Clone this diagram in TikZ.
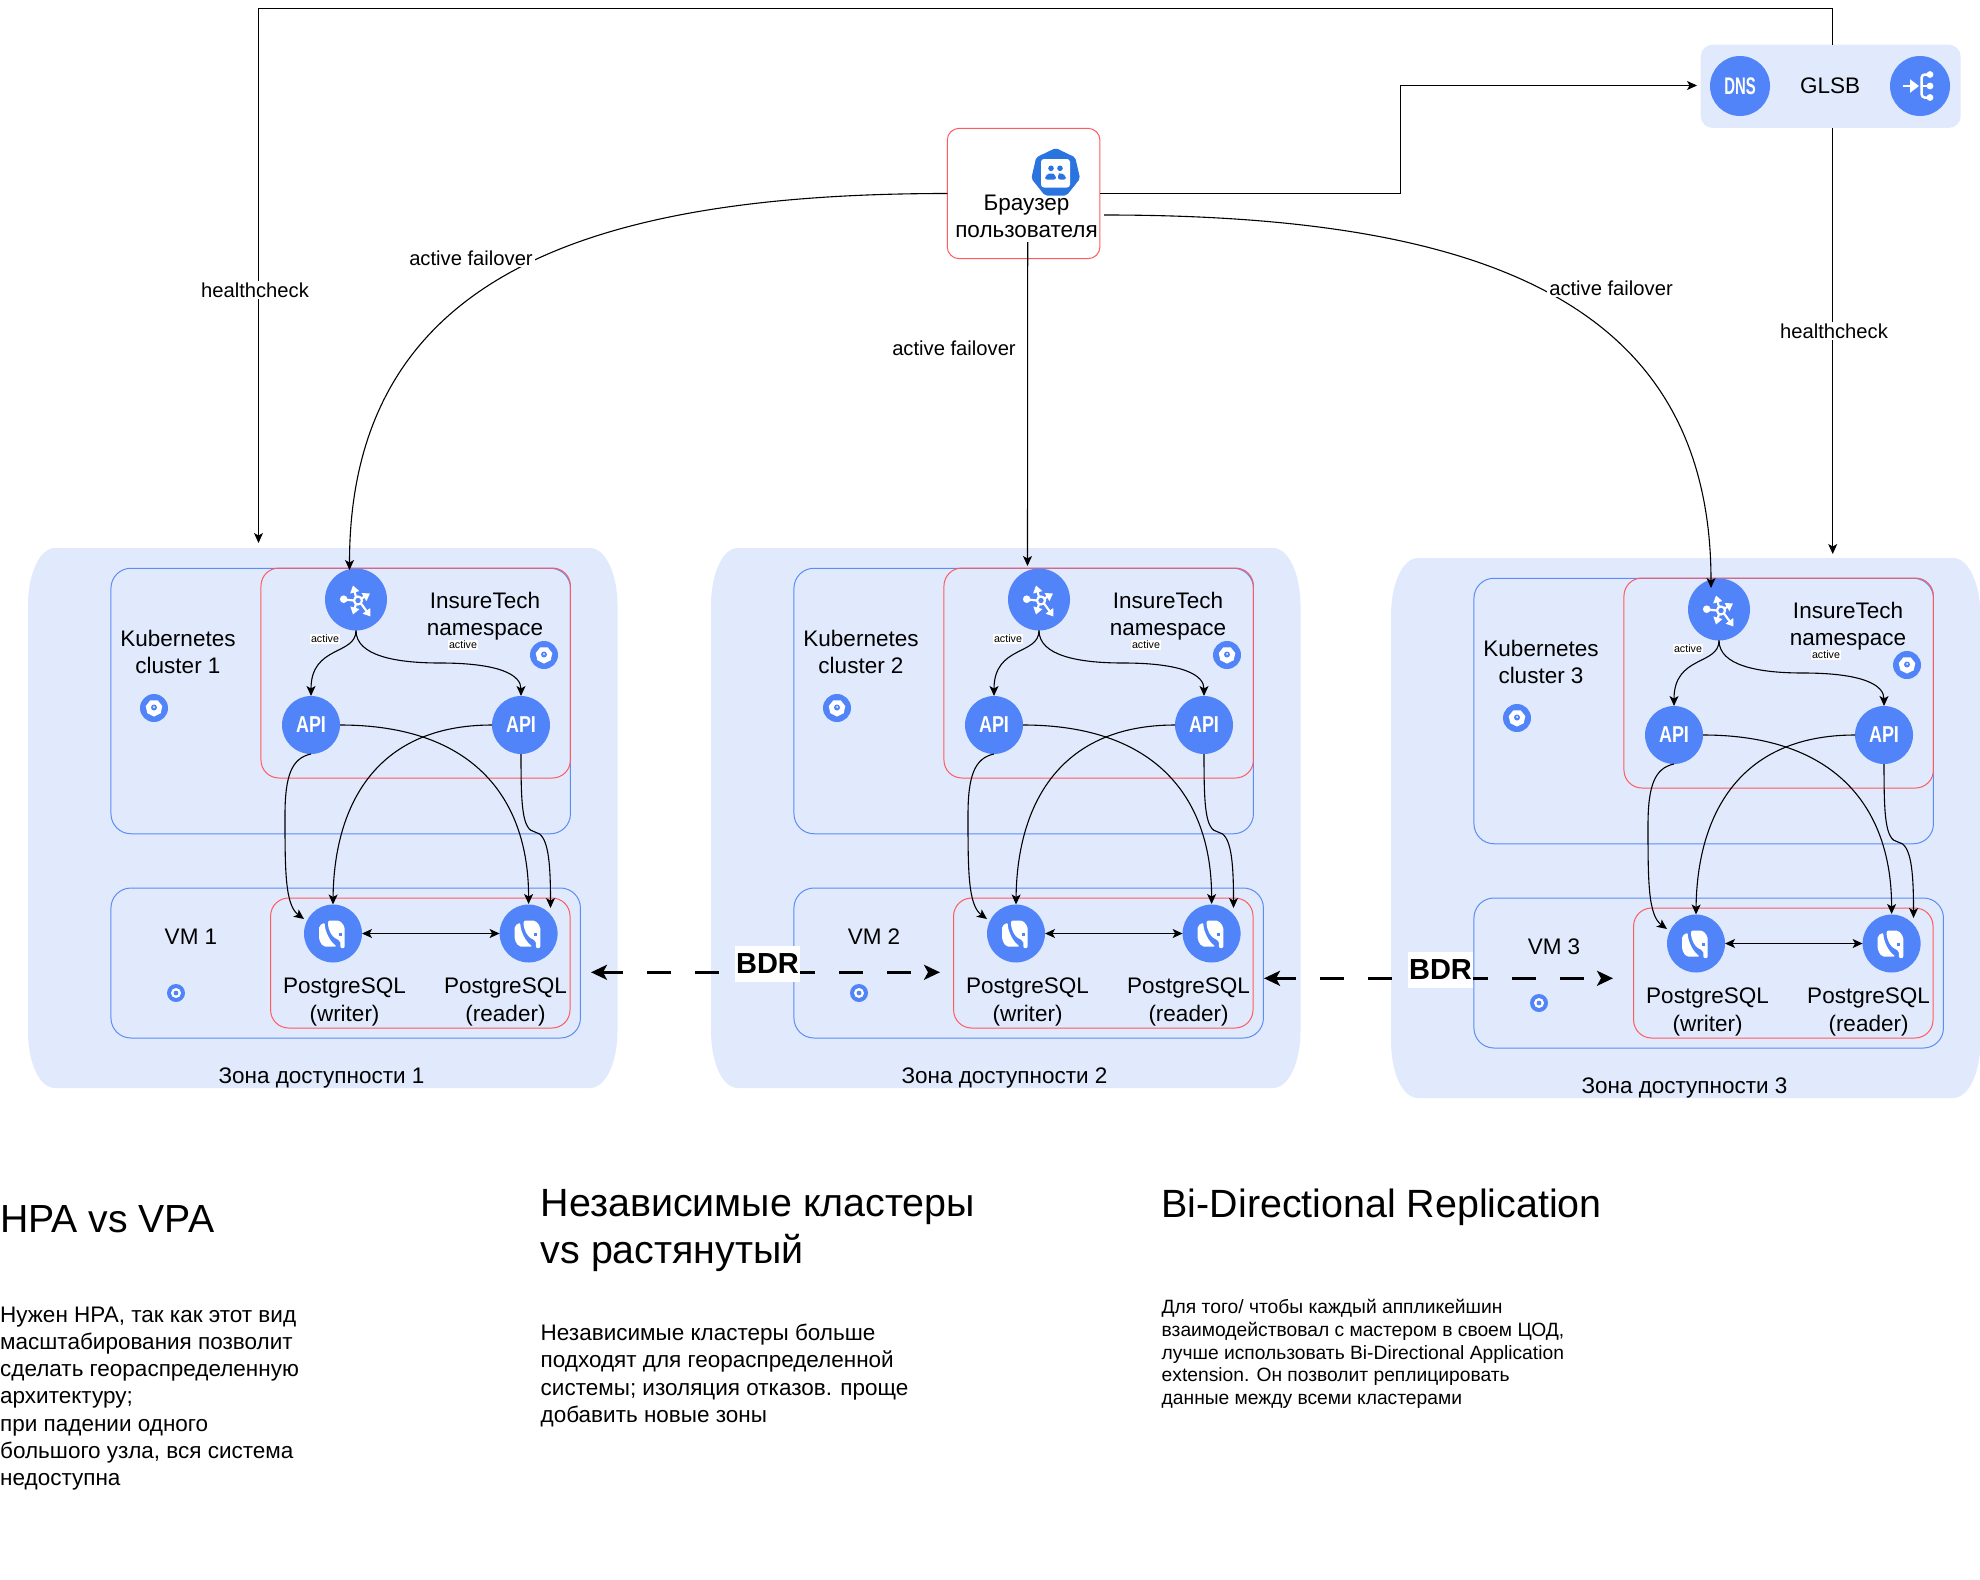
\documentclass[tikz,border=0pt]{standalone}
\usepackage{fontspec}
\usepackage{graphicx}
\setmainfont{Liberation Sans}
\usetikzlibrary{arrows.meta,shapes.geometric}

\definecolor{zonebg}{HTML}{E1EAFC}
\definecolor{nodeblue}{HTML}{5184F9}
\definecolor{boxblue}{HTML}{5C8CF5}
\definecolor{boxred}{HTML}{FF5A5F}
\definecolor{usrblue}{HTML}{2A74E0}

\newcommand{\apitxt}{\scalebox{.78}[1]{\fontsize{23}{27}\selectfont\bfseries API}}
\newcommand{\dnstxt}{\scalebox{.62}[1]{\fontsize{24}{28}\selectfont\bfseries DNS}}

\tikzset{
  blue dot/.style={circle,fill=nodeblue,text=white,inner sep=0pt,outer sep=0pt},
  k8s box/.style={draw=boxblue,line width=1pt,rounded corners=20pt,inner sep=0pt,outer sep=0pt},
  red box/.style={draw=boxred,line width=1pt,rounded corners=18pt,inner sep=0pt,outer sep=0pt},
  txt/.style={font=\fontsize{22.5}{27.3}\selectfont,align=center,inner sep=0pt},
  lbl/.style={font=\fontsize{20.2}{24}\selectfont,fill=white,inner sep=2pt},
  tiny lbl/.style={font=\fontsize{10.7}{12}\selectfont,fill=white,inner sep=1pt},
  bdr lbl/.style={font=\fontsize{29}{34}\selectfont\bfseries,fill=white,inner sep=1pt,minimum width=65pt,minimum height=36pt},
  conn/.style={line width=1.1pt},
  bdr/.style={line width=2.7pt,dash pattern=on 24pt off 24pt,dash phase=3pt,
    <->,>={Stealth[length=16pt,width=15pt,inset=4pt]}},
  k8s icon/.pic={
    \fill[nodeblue] (0,0) circle[radius=14];
    \fill[white] (90:8.5) -- (141.4:8.5) -- (192.9:8.5) -- (244.3:8.5) -- (295.7:8.5) -- (347.1:8.5) -- (38.6:8.5) -- cycle;
    \fill[nodeblue] (0,-.5) circle[radius=3];
    \fill[white] (0,-1) circle[radius=1];
  },
  vm icon/.pic={
    \fill[nodeblue] (0,0) circle[radius=9];
    \fill[white] (0,0) circle[radius=5];
    \fill[nodeblue] (0,0) circle[radius=2.4];
  },
  rtr icon/.pic={
    \draw[white,line width=2.2pt] (2,1) circle[radius=4];
    \fill[white] (-12.3,-.3) circle[radius=3.8];
    \draw[white,line width=2.2pt] (-12,0) -- (-2,1);
    \draw[white,line width=2.2pt,-{Triangle[length=7pt,width=9pt]}] (0,-2.4) -- (-3,-14);
    \draw[white,line width=2.2pt,-{Triangle[length=7pt,width=9pt]}] (5.5,-1) -- (14,-6);
    \draw[white,line width=2.2pt,-{Triangle[length=7pt,width=9pt]}] (0,4.4) -- (-3,15);
    \draw[white,line width=2.2pt,-{Triangle[length=7pt,width=9pt]}] (5,4) -- (14.5,17);
  },
  lb icon/.pic={
    \draw[white,line width=2.5pt,-{Triangle[length=9pt,width=13pt]}] (-16.7,0) -- (-1,0);
    \draw[white,line width=2.5pt,rounded corners=3pt] (10,-11.5) -- (1.7,-11.5) -- (1.7,11.5) -- (10,11.5);
    \draw[white,line width=2.5pt] (1.7,0) -- (10,0);
    \fill[white] (10,-11.5) circle[radius=3.4] (10,0) circle[radius=3.4] (10,11.5) circle[radius=3.4];
  },
  pg icon/.pic={
    \fill[white,rounded corners=2pt] (-14,-7.7) -- (-8.3,-11) .. controls (-8,-2) and (-3,8) .. (4,13) -- (-10,13) -- (-14,6.3) -- cycle;
    \fill[white,rounded corners=2pt] (-5,-13) -- (6.7,-13) -- (11.7,-7) -- (11.7,14.7) -- (7.3,14.7) -- (7.3,7) -- (3.3,5.7) -- (-1.7,1.3) -- (-5,-7) -- cycle;
    \fill[nodeblue] (5.8,-.8) rectangle (8.8,2.2);
  }
}

\begin{document}
\begin{tikzpicture}[x=1pt,y=-1pt,>={Stealth[length=10pt,width=9pt,inset=2.5pt]}]
\useasboundingbox (0,0) rectangle (1980,1579);

\foreach \n/\dx/\dy in {1/0/0,2/683/0,3/1363/10}{
\begin{scope}[shift={(\dx,\dy)}]
\fill[zonebg] (55,548) -- (590,548) .. controls (606,548) and (617.5,575) .. (617.5,605) -- (617.5,1031)
  .. controls (617.5,1062) and (606,1088) .. (590,1088) -- (55,1088)
  .. controls (39,1088) and (28,1062) .. (28,1031) -- (28,605) .. controls (28,575) and (39,548) .. (55,548) -- cycle;

\node[k8s box,minimum width=459.5pt,minimum height=265.5pt] (k8s\n) at (340.7,701) {};
\node[red box,minimum width=309.5pt,minimum height=210pt] (ns\n) at (415.7,673) {};
\node[k8s box,minimum width=469.5pt,minimum height=150pt] (vm\n) at (345.7,963) {};
\node[red box,minimum width=299.4pt,minimum height=130pt] (pgbox\n) at (420.3,963) {};

\node[txt] (k8stxt\n) at (178,652) {Kubernetes\\cluster \n};
\node[txt] (nstxt\n) at (485,616.5) {InsureTech\\namespace};
\node[txt] (vmtxt\n) at (191,936.5) {VM \n};
\node[txt] (wrtxt\n) at (344.5,1002) {PostgreSQL\\(writer)};
\node[txt] (rdtxt\n) at (505.5,1002) {PostgreSQL\\(reader)};
\node[txt] (zonetxt\n) at (321.5,1077.5) {Зона доступности \n};

\node[blue dot,minimum size=62pt] (rtr\n) at (356,599.5) {};
\node[blue dot,minimum size=58pt] (apia\n) at (311,725) {\apitxt};
\node[blue dot,minimum size=58pt] (apib\n) at (521,725) {\apitxt};
\node[blue dot,minimum size=58pt] (pga\n) at (333,933.5) {};
\node[blue dot,minimum size=58pt] (pgb\n) at (528.6,933.5) {};
\pic at (rtr\n) {rtr icon};
\pic at (pga\n) {pg icon};
\pic at (pgb\n) {pg icon};
\pic at (154,708) {k8s icon};
\pic at (544,655) {k8s icon};
\pic at (176,993) {vm icon};

\coordinate (pgain\n) at (304,919);
\coordinate (pgbin\n) at (550.5,908);
\coordinate (pgbtop\n) at (528.6,904);
\coordinate (m1\n) at (285,815);
\coordinate (m2\n) at (535,832);
\coordinate (m3\n) at (440,663);

\path[draw,conn,->] (rtr\n.south) .. controls +(0,25) and +(0,-51) .. (apia\n.north);
\path[draw,conn] (rtr\n.south) .. controls +(0,25) and +(-45,0) .. (m3\n);
\path[draw,conn,->] (m3\n) .. controls +(60,0) and +(0,-21) .. (apib\n.north);
\path[draw,conn,->] (apia\n.east) .. controls +(135,0) and +(0,-104) .. (pgbtop\n);
\path[draw,conn,->] (apib\n.west) .. controls +(-120,0) and +(1,-94) .. (pga\n.north);
\path[draw,conn] (apia\n.south) .. controls +(-19,4) and +(0,-40) .. (m1\n);
\path[draw,conn,->] (m1\n) .. controls +(0,55) and +(-19,-14) .. (pgain\n);
\path[draw,conn] (apib\n.south) .. controls +(0,51) and +(-13,-2) .. (m2\n);
\path[draw,conn,->] (m2\n) .. controls +(13,2) and +(0,-48) .. (pgbin\n);
\path[draw,line width=1pt,<->] (pga\n.east) -- (pgb\n.west);

\node[tiny lbl] (acta\n) at (325,639) {active};
\node[tiny lbl] (actb\n) at (463,645) {active};
\end{scope}
}

\node[fill=zonebg,rounded corners=12pt,inner sep=0pt,outer sep=0pt,minimum width=260pt,minimum height=83.3pt] (glsb) at (1830.7,86.3) {};
\node[txt] (glsbtxt) at (1830,86) {GLSB};
\node[blue dot,minimum size=60pt] (dns) at (1740,86) {\dnstxt};
\node[blue dot,minimum size=60pt] (lb) at (1920,86) {};
\pic at (lb) {lb icon};

\node[draw=boxred,line width=1pt,rounded corners=12pt,inner sep=0pt,outer sep=0pt,minimum width=152.7pt,minimum height=130.4pt] (browser) at (1023.6,193.5) {};
\node[regular polygon,regular polygon sides=7,fill=usrblue,minimum size=50pt,inner sep=0pt,rounded corners=2pt] (usr) at (1055.7,173) {};
\fill[white,rounded corners=3pt] (1041,159) rectangle (1070,187.5);
\fill[usrblue] (1051,168.3) circle[radius=2.8] (1060,168.3) circle[radius=2.8];
\fill[usrblue,rounded corners=2pt] (1045,179.5) -- (1045,176) -- (1051,172.5) -- (1056,175.5) -- (1056,179.5) -- cycle;
\fill[usrblue,rounded corners=2pt] (1058,179.5) -- (1058,174) -- (1060,172.5) -- (1066,176) -- (1066,179.5) -- cycle;
\node[txt] (browsertxt) at (1026.5,216.5) {Браузер\\пользователя};

\coordinate (glsbtop) at (1832.7,44.7);
\coordinate (glsbbot) at (1832.7,128);
\coordinate (topr) at (1832.7,8.5);
\coordinate (topl) at (258.5,8.5);
\coordinate (hcl) at (258.5,543);
\coordinate (hcr) at (1832.7,554);
\coordinate (brk) at (1400.5,140);
\coordinate (glsbin) at (1697,85.5);
\coordinate (brbot) at (1027.7,242);
\coordinate (brright) at (1104,215);
\coordinate (inz1) at (349.5,570);
\coordinate (inz2) at (1027.5,566);
\coordinate (inz3) at (1711,588);

\path[draw,line width=1pt,->] (glsbtop) -- (topr) -- (topl) -- (hcl);
\path[draw,conn,->] (glsbbot) -- (hcr);
\path[draw,conn,->] (browser.east) -| (brk) |- (glsbin);
\path[draw,conn,->] (browser.west) .. controls +(-367,0) and +(0,-290) .. (inz1);
\path[draw,conn,->] (brbot) -- (inz2);
\path[draw,conn,->] (brright) .. controls +(376,0) and +(0,-288) .. (inz3);

\node[lbl] (hcltxt) at (255,290) {healthcheck};
\node[lbl] (hcrtxt) at (1834,331) {healthcheck};
\node[lbl] (aflt) at (471,258) {active failover};
\node[lbl] (afc) at (954,348.5) {active failover};
\node[lbl] (afr) at (1611,288) {active failover};

\coordinate (bdra) at (591,972.3);
\coordinate (bdrb) at (940,972.3);
\coordinate (bdrc) at (1264,978.3);
\coordinate (bdrd) at (1613,978.3);
\path[draw,bdr] (bdra) -- (bdrb);
\path[draw,bdr] (bdrc) -- (bdrd);
\node[bdr lbl] (bdrt1) at (767.5,964) {BDR};
\node[bdr lbl] (bdrt2) at (1440.5,970) {BDR};

\node[anchor=west,inner sep=0pt,font=\fontsize{39.2}{47}\selectfont] (hpa) at (0,1219) {HPA vs VPA};
\node[anchor=west,align=left,inner sep=0pt,font=\fontsize{22.5}{27.2}\selectfont] (hpatxt) at (0,1398.5) {Нужен HPA, так как этот вид\\масштабирования позволит\\сделать геораспределенную\\архитектуру;\\при падении одного\\большого узла, вся система\\недоступна};
\node[anchor=west,align=left,inner sep=0pt,font=\fontsize{39.4}{47.5}\selectfont] (indep) at (540.5,1230.5) {Независимые кластеры\\vs растянутый};
\node[anchor=west,align=left,inner sep=0pt,font=\fontsize{22.5}{27.2}\selectfont] (indeptxt) at (540.5,1375.5) {Независимые кластеры больше\\подходят для геораспределенной\\системы; изоляция отказов. проще\\добавить новые зоны};
\node[anchor=west,inner sep=0pt,font=\fontsize{39.4}{47}\selectfont] (bidir) at (1161.5,1207.5) {Bi-Directional Replication};
\node[anchor=west,align=left,inner sep=0pt,font=\fontsize{19.24}{22.8}\selectfont] (bidirtxt) at (1161.5,1354) {Для того/ чтобы каждый аппликейшин\\взаимодействовал с мастером в своем ЦОД,\\лучше использовать Bi-Directional Application\\extension. Он позволит реплицировать\\данные между всеми кластерами};
\end{tikzpicture}
\end{document}
